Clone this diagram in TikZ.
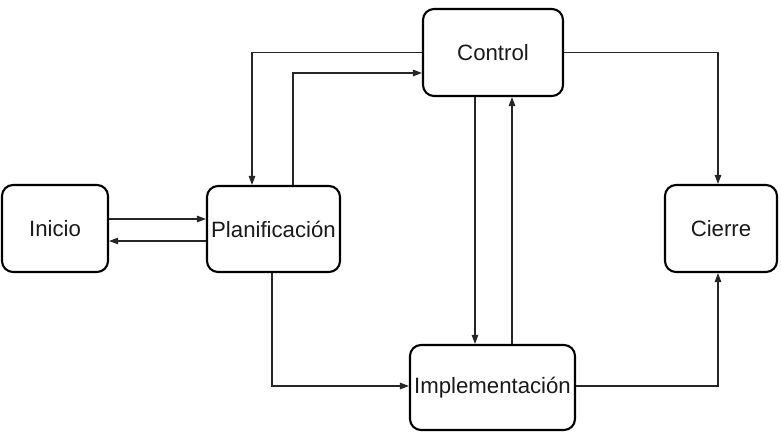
\documentclass[tikz,border=0pt]{standalone}
\usepackage{fontspec}
\setmainfont{Liberation Sans}
\usetikzlibrary{arrows.meta}
\begin{document}
\begin{tikzpicture}[x=1pt,y=1pt,
  phase/.style={draw, line width=2.1pt, rounded corners=11pt, inner sep=0pt,
    font=\fontsize{22.2}{26}\selectfont, text=black!90},
  flow/.style={line width=1.3pt, draw=black!85,
    -{Triangle[length=9pt,width=6.5pt]}}]
\useasboundingbox (0,0) rectangle (781,438);
% phase boxes
\node[phase, minimum width=106pt, minimum height=87pt] (ini) at (55,209.5) {Inicio};
\node[phase, minimum width=133pt, minimum height=86pt] (pla) at (273.5,209) {Planificación};
\node[phase, minimum width=140pt, minimum height=87pt] (con) at (493,385.5) {Control};
\node[phase, minimum width=112pt, minimum height=87pt] (cie) at (721,209.5) {Cierre};
\node[phase, minimum width=165pt, minimum height=85pt] (imp) at (492.5,50.5) {Implementación};
% Inicio <-> Planificacion
\draw[flow] ([yshift=9.5pt]ini.east) -- ([yshift=10pt]pla.west);
\draw[flow] ([yshift=-12pt]pla.west) -- ([yshift=-12.5pt]ini.east);
% Control <-> Planificacion
\draw[flow] (con.west) -| ([xshift=-21.5pt]pla.north);
\draw[flow] ([xshift=19.5pt]pla.north) |- ([yshift=-20.5pt]con.west);
% Control -> Cierre
\draw[flow] (con.east) -| ([xshift=-3pt]cie.north);
% Control <-> Implementacion
\draw[flow] ([xshift=-18pt]con.south) -- ([xshift=-17.5pt]imp.north);
\draw[flow] ([xshift=19.5pt]imp.north) -- ([xshift=19pt]con.south);
% Planificacion -> Implementacion -> Cierre
\draw[flow] ([xshift=-1.5pt]pla.south) |- ([yshift=1.5pt]imp.west);
\draw[flow] ([yshift=1.5pt]imp.east) -| ([xshift=-3pt]cie.south);
\end{tikzpicture}
\end{document}
